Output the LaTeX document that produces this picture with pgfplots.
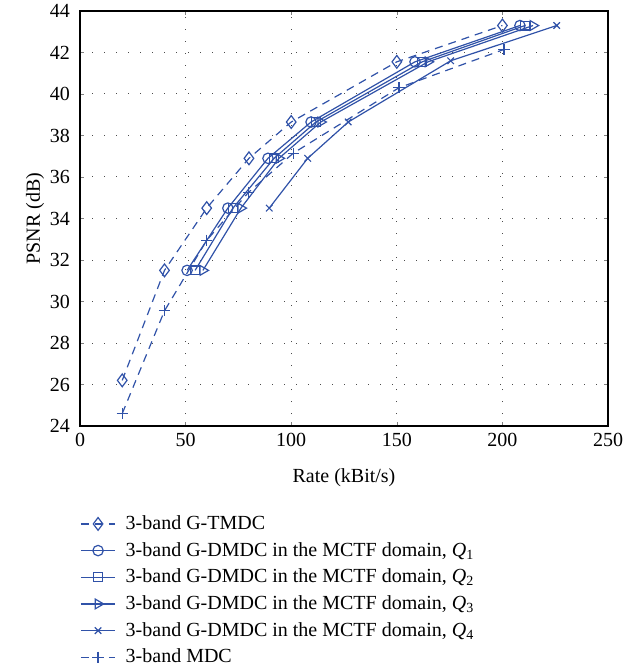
\documentclass[border=0pt]{standalone}
\usepackage{fontspec}
\setmainfont{Liberation Serif}
\usepackage{pgfplots}
\pgfplotsset{compat=1.18}
\definecolor{cblue}{RGB}{48,82,168}
\begin{document}
\begin{tikzpicture}[font=\fontsize{10}{12}\selectfont]
\begin{axis}[
  width=264pt, height=207.5pt, scale only axis,
  xmin=0, xmax=250, ymin=24, ymax=44,
  xtick={0,50,...,250}, ytick={24,26,...,44},
  /pgf/number format/assume math mode=true,
  tick label style={font=\fontsize{10}{12}\selectfont},
  yticklabel style={xshift=-1.5pt},
  label style={font=\fontsize{10}{12}\selectfont},
  xlabel={Rate (kBit/s)}, ylabel={PSNR (dB)},
  xlabel style={yshift=-4pt},
  ylabel style={yshift=-4pt},
  grid=major,
  major grid style={black!70, line width=0.5pt, dash pattern=on 0.5pt off 5.5pt},
  tick align=inside, major tick length=2pt,
  axis line style={line width=0.6pt},
  every axis plot/.append style={cblue, line width=0.6pt},
  legend style={draw=none, fill=none, at={(0,-0.205)}, anchor=north west,
    font=\fontsize{10}{12}\selectfont, row sep=0.9pt, column sep=3pt, inner sep=0pt,
    cells={anchor=west}},
  legend cell align=left,
]
\coordinate (O) at (rel axis cs:0,0);
\addplot[dash pattern=on 4pt off 3pt, mark=diamond, mark size=3.2pt, mark options={solid}]
coordinates {(20,26.2) (40,31.5) (60,34.5) (80,36.9) (100,38.65) (150,41.55) (200,43.3)};
\addlegendentry{3-band G-TMDC}
\addplot[mark=o, mark size=2.6pt]
coordinates {(50.7,31.5) (70,34.5) (89,36.9) (109.4,38.65) (158.6,41.55) (208.3,43.3)};
\addlegendentry{3-band G-DMDC in the MCTF domain, \textit{Q}\textsubscript{1}}
\addplot[mark=square, mark size=2.2pt]
coordinates {(54.5,31.5) (72.4,34.5) (91.9,36.9) (111.7,38.65) (162,41.55) (210.7,43.3)};
\addlegendentry{3-band G-DMDC in the MCTF domain, \textit{Q}\textsubscript{2}}
\addplot[mark=triangle, mark size=2.8pt, mark options={rotate=-90}]
coordinates {(58.2,31.5) (76.2,34.5) (94.2,36.9) (114,38.65) (164.8,41.55) (214.5,43.3)};
\addlegendentry{3-band G-DMDC in the MCTF domain, \textit{Q}\textsubscript{3}}
\addplot[mark=x, mark size=2.3pt]
coordinates {(89.6,34.5) (107.8,36.9) (127,38.65) (175.5,41.6) (225.7,43.3)};
\addlegendentry{3-band G-DMDC in the MCTF domain, \textit{Q}\textsubscript{4}}
\addplot[dash pattern=on 4pt off 3pt, mark=+, mark size=2.8pt, mark options={solid}]
coordinates {(20,24.6) (40,29.55) (60,32.95) (79.7,35.25) (101,37.15) (151,40.3) (200.8,42.15)};
\addlegendentry{3-band MDC}
\end{axis}
\pgfresetboundingbox
\path ([shift={(-40pt,-121pt)}]O) rectangle ++(318pt,334pt);
\end{tikzpicture}
\end{document}
